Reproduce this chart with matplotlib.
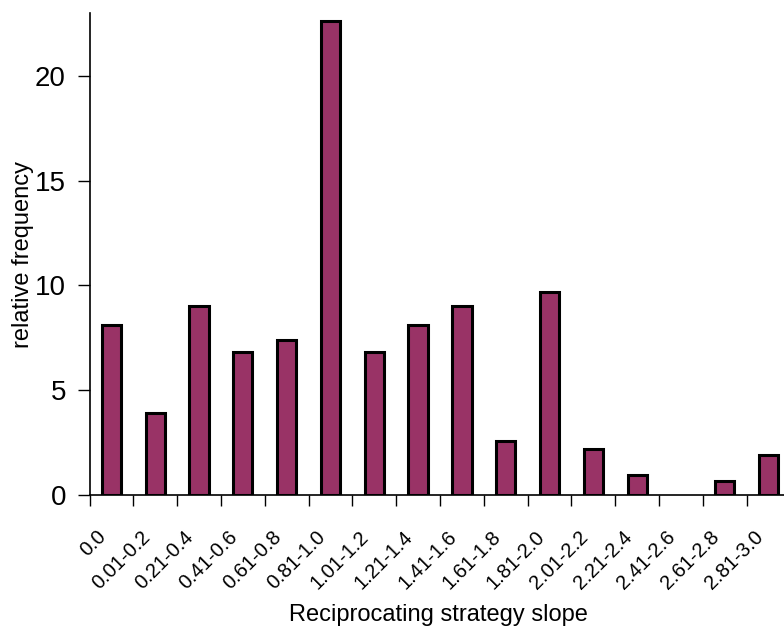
import matplotlib
matplotlib.use("Agg")
import matplotlib.pyplot as plt
from matplotlib.transforms import ScaledTranslation
import numpy as np

categories = ["0.0", "0.01-0.2", "0.21-0.4", "0.41-0.6", "0.61-0.8", "0.81-1.0",
              "1.01-1.2", "1.21-1.4", "1.41-1.6", "1.61-1.8", "1.81-2.0", "2.01-2.2",
              "2.21-2.4", "2.41-2.6", "2.61-2.8", "2.81-3.0"]
values = [8.1, 3.9, 9.0, 6.8, 7.4, 22.6, 6.8, 8.1, 9.0, 2.6, 9.7, 2.2, 0.95, 0.0, 0.65, 1.9]
yticks = [0, 5, 10, 15, 20]

plt.rcParams['font.family'] = ['Liberation Sans', 'DejaVu Sans']

fig = plt.figure(figsize=(7.84, 6.3), dpi=100)
ax = fig.add_axes([89.5/784, 135/630, 701/784, 482/630])

x = np.arange(len(categories))
lws = [2.2 if v > 0 else 0 for v in values]
ax.bar(x, values, width=0.44, color="#993366", edgecolor="black", linewidth=lws, zorder=3)

ax.set_xlim(-0.5, len(categories) - 0.5)
ax.set_ylim(0, 23)
ax.set_yticks(yticks)
ax.set_yticklabels([str(t) for t in yticks], fontsize=20)
ax.tick_params(axis='y', direction='out', length=9, width=1, pad=8)

ax.set_xticks(x)
ax.set_xticklabels(categories, rotation=45, ha='right', va='top', rotation_mode='anchor', fontsize=14.5)
ax.tick_params(axis='x', which='major', length=0, pad=23)
offset = ScaledTranslation(-15/100, 0, fig.dpi_scale_trans)
for lbl in ax.get_xticklabels():
    lbl.set_transform(lbl.get_transform() + offset)
ax.set_xticks(np.arange(len(categories)) - 0.5, minor=True)
ax.tick_params(axis='x', which='minor', direction='out', length=8, width=1)

for s in ['top', 'right']:
    ax.spines[s].set_visible(False)
ax.spines['left'].set_linewidth(1.2)
ax.spines['bottom'].set_linewidth(1.2)

ax.set_ylabel("relative frequency", fontsize=17)
ax.set_xlabel("Reciprocating strategy slope", fontsize=17)
ax.yaxis.set_label_coords(-(89.5 - 34) / 701, 0.5)
ax.xaxis.set_label_coords((438 - 89.5) / 701, -(604 - 495) / 482)

fig.savefig("out.png", dpi=100)
